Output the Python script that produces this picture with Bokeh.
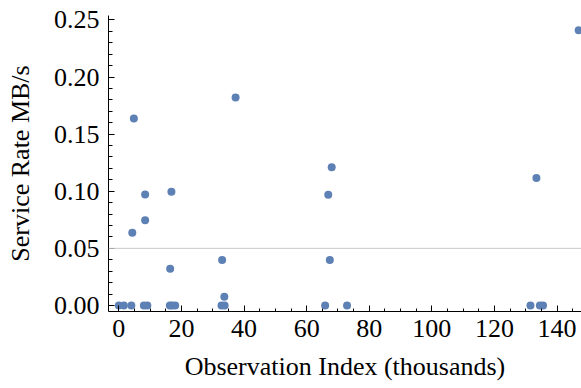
from bokeh.plotting import figure
from bokeh.models import Span, Range1d, BasicTicker, ColumnDataSource, PrintfTickFormatter
from bokeh.embed import file_html
from bokeh.resources import INLINE

# Observation index (thousands) and service rate (MB/s)
obs_index = [0.0, 1.6, 4.0, 4.3, 4.8, 8.0, 8.4, 8.4, 9.1, 16.3, 16.4, 16.8, 17.0, 18.0,
             32.8, 33.0, 33.7, 33.8, 37.3, 65.9, 66.9, 67.4, 68.0, 72.9,
             131.5, 133.4, 134.5, 135.5, 146.9]
service_rate = [0.0, 0.0, 0.0, 0.0636, 0.1637, 0.0, 0.0972, 0.0747, 0.0, 0.0, 0.0321, 0.0995, 0.0, 0.0,
                0.0, 0.0397, 0.0076, 0.0, 0.182, 0.0, 0.0969, 0.0397, 0.121, 0.0,
                0.0, 0.1115, 0.0, 0.0, 0.241]
threshold = 0.05

FONT = "Liberation Serif"

p = figure(width=581, height=388, output_backend="svg", toolbar_location=None,
           x_range=Range1d(-3.3, 147.8), y_range=Range1d(-0.0053, 0.2539),
           min_border_left=108, min_border_right=0, min_border_top=15, min_border_bottom=77)
p.outline_line_color = None
p.grid.visible = False
p.background_fill_color = "white"

src = ColumnDataSource(dict(x=obs_index, y=service_rate))
p.scatter("x", "y", source=src, size=8, fill_color="#5E81B5", line_color=None)

p.add_layout(Span(location=threshold, dimension="width", line_color="#c8c8c8", line_width=1))

p.xaxis.ticker = BasicTicker(desired_num_ticks=8, num_minor_ticks=4)
p.yaxis.ticker = BasicTicker(desired_num_ticks=6, num_minor_ticks=5)
p.yaxis.formatter = PrintfTickFormatter(format="%.2f")

for ax in (p.xaxis[0], p.yaxis[0]):
    ax.axis_line_color = "black"
    ax.axis_line_width = 1
    ax.major_tick_line_color = "black"
    ax.minor_tick_line_color = "black"
    ax.major_tick_in = 6
    ax.major_tick_out = 0
    ax.minor_tick_in = 4
    ax.minor_tick_out = 0
    ax.major_label_text_font = FONT
    ax.major_label_text_font_size = "26px"
    ax.major_label_text_color = "black"
    ax.axis_label_text_font = FONT
    ax.axis_label_text_font_size = "26px"
    ax.axis_label_text_font_style = "normal"
    ax.axis_label_text_color = "black"

p.xaxis.minor_tick_in = 3
p.xaxis.major_label_standoff = 8
p.yaxis.major_label_standoff = 9
p.xaxis.axis_label = "Observation Index (thousands)"
p.yaxis.axis_label = "Service Rate MB/s"
p.xaxis.axis_label_standoff = 12
p.yaxis.axis_label_standoff = 16

open("out.html", "w").write(file_html(p, INLINE))
